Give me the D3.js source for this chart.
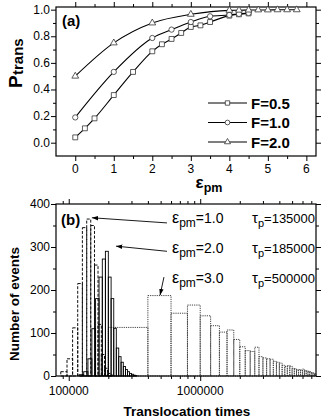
<!DOCTYPE html>
<html><head><meta charset="utf-8">
<script src="https://cdn.jsdelivr.net/npm/d3@7"></script>
<style>body{margin:0;background:#fff} svg{display:block} text{font-family:"Liberation Sans",Arial,Helvetica,sans-serif;fill:#000}</style>
</head><body><svg id="c" width="324" height="420"></svg>
<script>
// ---------- Panel (a) data: P_trans vs eps_pm ----------
const epsF05 = [0,0.25,0.5,1,1.5,2,2.25,2.5,2.75,3,3.25,3.5,4,4.25,4.5];
const pF05   = [0.04,0.108,0.183,0.358,0.532,0.687,0.74,0.78,0.825,0.87,0.882,0.907,0.955,0.965,0.972];
const epsF10 = [0,1,2,2.5,3,3.5,4,4.25,4.5];
const pF10   = [0.19,0.532,0.787,0.85,0.907,0.95,0.96,0.968,0.975];
const epsF20 = [0,1,2,3,4,4.25,4.5,4.75,5,5.25,5.5,5.75];
const pF20   = [0.5,0.75,0.9,0.965,0.995,0.996,0.997,0.998,0.998,0.999,0.999,0.999];
const legendLabels = ["F=0.5","F=1.0","F=2.0"];
const xTicksA = [0,1,2,3,4,5,6];
const yTicksA = [0,0.2,0.4,0.6,0.8,1.0];

// ---------- Panel (b) data: histograms of translocation times ----------
const hist1Start = 87000,  hist1Width = 10000;   // eps_pm = 1.0 (dashed)
const counts1 = [10,40,112,215,345,365,350,258,120,50,18,6,2];
const hist2Start = 120000, hist2Width = 10000;   // eps_pm = 2.0 (solid)
const counts2 = [3,10,40,110,180,230,272,290,230,180,111,65,45,32,22,15,10,6,4,2,1];
const hist3Start = 200000, hist3Width = 200000;  // eps_pm = 3.0 (dotted)
const counts3 = [113,187,146,165,140,117,102,107,85,68,59,57,67,45,42,40,39,34,32,30,25,22,24,23,18,17,14,15,14,16,13,12,11,10,8,7,5];
const yTicksB = [0,100,200,300,400];
const xMajorB = [100000,1000000];
const xMinorB = [90000,200000,300000,400000,500000,600000,700000,800000,900000,2000000,3000000,4000000,5000000,6000000,7000000];
const annEps = ["1.0","2.0","3.0"];
const annTau = ["135000","185000","500000"];
// arrow tails/tips in data units [time, count]
const arrowTail = [[559000,356],[559000,290],[530000,230]];
const arrowTip  = [[150000,368],[229000,302],[495000,188]];

const svg = d3.select("#c");

// ---------- scales ----------
const xa = d3.scaleLinear().domain([-0.5, 6.25]).range([56, 316]);
const ya = d3.scaleLinear().domain([-0.1, 1.02]).range([156, 7]);
const xb = d3.scaleLog().domain([80000, 7600000]).range([56, 316]);
const yb = d3.scaleLinear().domain([0, 400]).range([376, 204]);

function tickSet(gen, tr, vals, size) {
  svg.append("g").attr("transform", tr)
    .call(gen.tickValues(vals).tickSize(size).tickSizeOuter(0).tickFormat(() => ""))
    .call(s => s.select(".domain").remove())
    .selectAll("line").attr("stroke", "#000").attr("stroke-width", 1);
}
function frame(x, y) {
  svg.append("rect").attr("x", x.range()[0]).attr("y", y.range()[1])
    .attr("width", x.range()[1] - x.range()[0]).attr("height", y.range()[0] - y.range()[1])
    .attr("fill", "none").attr("stroke", "#000").attr("stroke-width", 1.2);
}

// ---------- Panel (a) ----------
const minorXA = [0.5,1.5,2.5,3.5,4.5,5.5];
const minorYA = [0.1,0.3,0.5,0.7,0.9];
tickSet(d3.axisBottom(xa), `translate(0,${ya.range()[0]})`, xTicksA, 5);
tickSet(d3.axisBottom(xa), `translate(0,${ya.range()[0]})`, minorXA, 3);
tickSet(d3.axisTop(xa), `translate(0,${ya.range()[1]})`, xTicksA, 5);
tickSet(d3.axisTop(xa), `translate(0,${ya.range()[1]})`, minorXA, 3);
tickSet(d3.axisLeft(ya), `translate(${xa.range()[0]},0)`, yTicksA, 5);
tickSet(d3.axisLeft(ya), `translate(${xa.range()[0]},0)`, minorYA, 3);
tickSet(d3.axisRight(ya), `translate(${xa.range()[1]},0)`, yTicksA, 5);
tickSet(d3.axisRight(ya), `translate(${xa.range()[1]},0)`, minorYA, 3);
frame(xa, ya);

xTicksA.forEach(v => svg.append("text").attr("x", xa(v)).attr("y", 173)
  .attr("text-anchor", "middle").attr("font-size", 12).text(v));
yTicksA.forEach(v => svg.append("text").attr("x", 50).attr("y", ya(v) + 4)
  .attr("text-anchor", "end").attr("font-size", 12).text(d3.format(".1f")(v)));

const seriesA = [
  {x: epsF05, y: pF05, sym: d3.symbolSquare, size: 24},
  {x: epsF10, y: pF10, sym: d3.symbolCircle, size: 22},
  {x: epsF20, y: pF20, sym: d3.symbolTriangle, size: 20}
];
const lineA = d3.line().curve(d3.curveMonotoneX).x(d => xa(d[0])).y(d => ya(d[1]));
seriesA.forEach(s => {
  const pts = s.x.map((v, i) => [v, s.y[i]]);
  svg.append("path").attr("d", lineA(pts)).attr("fill", "none").attr("stroke", "#000").attr("stroke-width", 1.1);
  svg.append("g").selectAll("path").data(pts).join("path")
    .attr("transform", d => `translate(${xa(d[0])},${ya(d[1])})`)
    .attr("d", d3.symbol(s.sym, s.size)).attr("fill", "#fff").attr("stroke", "#333").attr("stroke-width", 0.8);
});
// legend
legendLabels.forEach((lab, i) => {
  const yy = 103 + i * 19.5;
  svg.append("line").attr("x1", 208).attr("x2", 247).attr("y1", yy).attr("y2", yy).attr("stroke", "#000").attr("stroke-width", 1.1);
  svg.append("path").attr("transform", `translate(227.5,${yy})`).attr("d", d3.symbol(seriesA[i].sym, seriesA[i].size * 0.8))
    .attr("fill", "#fff").attr("stroke", "#333").attr("stroke-width", 0.8);
  svg.append("text").attr("x", 251).attr("y", yy + 5.5).attr("font-size", 15).attr("font-weight", "bold").text(lab);
});
svg.append("text").attr("x", 62).attr("y", 26).attr("font-size", 15).attr("font-weight", "bold").text("(a)");
// axis labels panel a
const epsLab = svg.append("text").attr("x", 209).attr("y", 188).attr("text-anchor", "middle").attr("font-weight", "bold");
epsLab.append("tspan").attr("font-size", 17).text("ε");
epsLab.append("tspan").attr("font-size", 12.5).attr("dy", 4).text("pm");
// rotated P_trans (two rotated pieces)
svg.append("text").attr("transform", "translate(21.5,88) rotate(-90)")
  .attr("font-size", 19).attr("font-weight", "bold").text("P");
svg.append("text").attr("transform", "translate(23,75) rotate(-90)")
  .attr("font-size", 15).attr("font-weight", "bold").text("trans");

// ---------- Panel (b) ----------
tickSet(d3.axisBottom(xb), `translate(0,${yb.range()[0]})`, xMajorB, 5);
tickSet(d3.axisBottom(xb), `translate(0,${yb.range()[0]})`, xMinorB, 3);
tickSet(d3.axisTop(xb), `translate(0,${yb.range()[1]})`, xMajorB, 5);
tickSet(d3.axisTop(xb), `translate(0,${yb.range()[1]})`, xMinorB, 3);
const minorYB = [50,150,250,350];
tickSet(d3.axisLeft(yb), `translate(${xb.range()[0]},0)`, yTicksB, 5);
tickSet(d3.axisLeft(yb), `translate(${xb.range()[0]},0)`, minorYB, 3);
tickSet(d3.axisRight(yb), `translate(${xb.range()[1]},0)`, yTicksB, 5);
tickSet(d3.axisRight(yb), `translate(${xb.range()[1]},0)`, minorYB, 3);

function hist(start, width, counts, dash, color, sw) {
  const bins = counts.map((c, i) => ({x0: start + i * width, x1: start + (i + 1) * width, c}));
  svg.append("g").selectAll("rect").data(bins.filter(b => b.x0 < xb.domain()[1])).join("rect")
    .attr("x", d => xb(d.x0)).attr("width", d => Math.min(xb(d.x1), xb.range()[1]) - xb(d.x0))
    .attr("y", d => yb(d.c)).attr("height", d => yb(0) - yb(d.c))
    .attr("fill", "none").attr("stroke", color).attr("stroke-width", sw).attr("stroke-dasharray", dash);
}
hist(hist3Start, hist3Width, counts3, "1.2,1", "#444", 1);
hist(hist1Start, hist1Width, counts1, "3,1.6", "#111", 1);
hist(hist2Start, hist2Width, counts2, null, "#000", 0.9);
frame(xb, yb);

yTicksB.forEach(v => svg.append("text").attr("x", 50).attr("y", yb(v) + 4)
  .attr("text-anchor", "end").attr("font-size", 12).text(v));
xMajorB.forEach(v => svg.append("text").attr("x", xb(v)).attr("y", 395)
  .attr("text-anchor", "middle").attr("font-size", 12).text(d3.format("d")(v)));

svg.append("text").attr("x", 61).attr("y", 225).attr("font-size", 15).attr("font-weight", "bold").text("(b)");

// annotations
svg.append("defs").append("marker").attr("id", "ah").attr("viewBox", "0 0 10 10")
  .attr("refX", 10).attr("refY", 5).attr("markerWidth", 7).attr("markerHeight", 7).attr("orient", "auto")
  .append("path").attr("d", "M0,1.5 L10,5 L0,8.5 Z").attr("fill", "#000");
annEps.forEach((e, i) => {
  const by = 223 + i * 30;
  const t1 = svg.append("text").attr("x", 172).attr("y", by).attr("font-size", 14);
  t1.append("tspan").attr("font-size", 16).text("ε");
  t1.append("tspan").attr("font-size", 12).attr("dy", 4).text("pm");
  t1.append("tspan").attr("dy", -4).text("=" + e);
  const t2 = svg.append("text").attr("x", 252).attr("y", by).attr("font-size", 13);
  t2.append("tspan").attr("font-size", 15).text("τ");
  t2.append("tspan").attr("font-size", 11).attr("dy", 4).text("p");
  t2.append("tspan").attr("dy", -4).text("=" + annTau[i]);
  svg.append("line")
    .attr("x1", xb(arrowTail[i][0])).attr("y1", yb(arrowTail[i][1]))
    .attr("x2", xb(arrowTip[i][0])).attr("y2", yb(arrowTip[i][1]))
    .attr("stroke", "#000").attr("stroke-width", 0.9).attr("marker-end", "url(#ah)");
});

// axis labels panel b
svg.append("text").attr("x", 187).attr("y", 416).attr("text-anchor", "middle")
  .attr("font-size", 13.5).attr("font-weight", "bold").text("Translocation times");
svg.append("text").attr("transform", "translate(19,304) rotate(-90)").attr("text-anchor", "middle")
  .attr("font-size", 13.5).attr("font-weight", "bold").text("Number of events");
</script></body></html>
